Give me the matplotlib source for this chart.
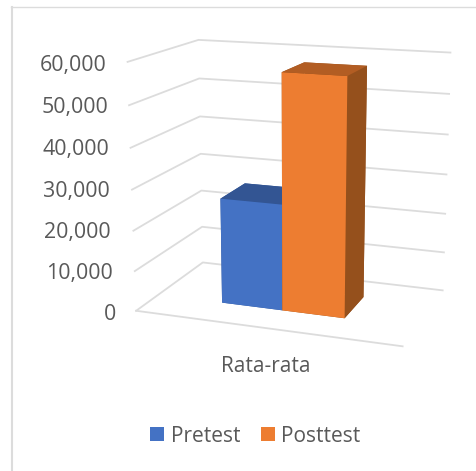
import matplotlib
matplotlib.use("Agg")
import matplotlib.pyplot as plt
from matplotlib.lines import Line2D
from matplotlib.patches import Patch

plt.rcParams['font.family'] = ['Open Sans', 'DejaVu Sans']

# Values
series_names = ['Pretest', 'Posttest']
series_values = [26283, 57592]
category = 'Rata-rata'
tick_values = [0, 10000, 20000, 30000, 40000, 50000, 60000]
tick_labels = ['0', '10,000', '20,000', '30,000', '40,000', '50,000', '60,000']

# Where the tick labels sit, in pixels
tick_right = [116, 113, 111, 110, 109, 108, 107]
tick_mid = [314, 273.5, 232.5, 191.5, 149.5, 107.5, 65.5]

W, H = 477, 471
TEXT = '#595959'
GRID = '#dcdcdc'

# front, top and side colours of each bar
bar_colors = [('#4472c4', '#335593', '#2f5597'), ('#ed7d31', '#b25d23', '#95501c')]
# bar edges on the floor
bar_x = [0.2607, 0.499, 0.737]
bar_y = (0.3108, 0.7065)

fig = plt.figure(figsize=(W / 100, H / 100), dpi=100)

# Axes box worked out so the 3D box lands where the original has it
ax = fig.add_axes([90.26 / W, (H - 384.65) / H, 394.9 / W, 394.9 / H], projection='3d')
ax.computed_zorder = False
ax.set_xlim(0, 1, view_margin=0)
ax.set_ylim(0, 1, view_margin=0)
ax.set_zlim(0, tick_values[-1], view_margin=0)
ax.view_init(14.4385, -70.1639)
ax.set_proj_type('persp', focal_length=0.5654)
ax.set_box_aspect((1, 0.5959, 0.9127))
ax.set_axis_off()
ax.patch.set_alpha(0)

# Gridlines on the side wall and the back wall
for t in tick_values:
    ax.plot([0, 0, 1], [0, 1, 1], [t, t, t], color=GRID, lw=1.3, zorder=1)
# Front edge of the floor
ax.plot([0, 1], [0, 0], [0, 0], color=GRID, lw=1.3, zorder=1)

# Bars
for i in range(len(series_values)):
    front, top, side = bar_colors[i]
    # face order in bar3d: bottom, top, front, back, left, right
    ax.bar3d(bar_x[i], bar_y[0], 0,
             bar_x[i + 1] - bar_x[i], bar_y[1] - bar_y[0], series_values[i],
             color=[side, top, front, side, side, side],
             shade=False, edgecolor='none', zorder=2 + i)

# Tick labels
for label, x, y in zip(tick_labels, tick_right, tick_mid):
    fig.text(x / W, 1 - y / H, label, color=TEXT, fontsize=15.4, ha='right', va='center')

fig.text(265.5 / W, 1 - 366.5 / H, category, color=TEXT, fontsize=15, ha='center', va='center')

# Legend
handles = [Patch(color=bar_colors[i][0], lw=0) for i in range(len(series_names))]
fig.legend(handles, series_names, ncol=2, frameon=False, loc='center',
           bbox_to_anchor=(255.5 / W, 1 - 436 / H), fontsize=15,
           handlelength=0.67, handleheight=0.67, handletextpad=0.3, columnspacing=1.0,
           labelcolor=TEXT, borderpad=0, borderaxespad=0)

# Chart frame, only the top and left show
fig.add_artist(Line2D([11.7 / W, 11.7 / W], [0, 1 - 7.3 / H], color='#dcdcdc', lw=1.5))
fig.add_artist(Line2D([11 / W, 1], [1 - 7.3 / H, 1 - 7.3 / H], color='#dcdcdc', lw=1.0))

fig.savefig('out.png', dpi=100)
